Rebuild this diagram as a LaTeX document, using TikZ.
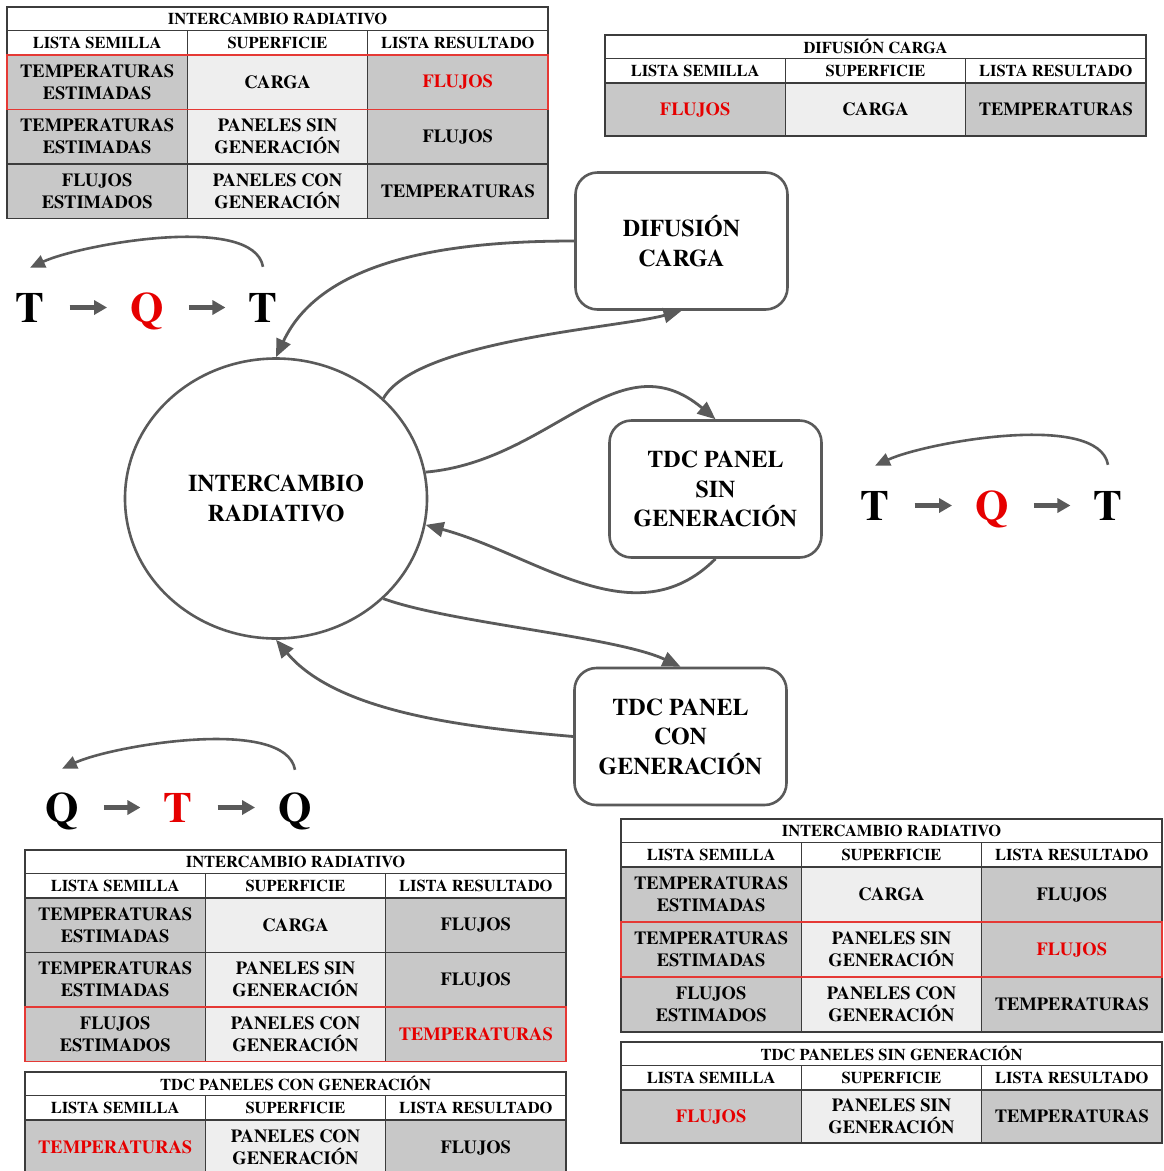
\documentclass[tikz,border=0pt]{standalone}
\usepackage{fontspec}
\IfFontExistsTF{texgyretermes-bold.otf}{%
  \setmainfont{texgyretermes}[Extension=.otf, UprightFont=*-regular, BoldFont=*-bold,
    ItalicFont=*-italic, BoldItalicFont=*-bolditalic]}{%
  \setmainfont{Liberation Serif}}
\usepackage{tikz}
\usetikzlibrary{shapes.geometric, positioning, arrows.meta}

\definecolor{grisflecha}{HTML}{5A5A5A}
\definecolor{borde}{HTML}{3C3C3C}
\definecolor{celdagris}{HTML}{C8C8C8}
\definecolor{celdaclara}{HTML}{EEEEEE}
\definecolor{rojo}{HTML}{E60000}
\definecolor{rojomarco}{HTML}{E53935}

\newcommand{\enrojo}[1]{\textcolor{rojo}{#1}}

% title row of a table
\newcommand{\tablatitulo}[4]{\node[titulo] (#1) at (#2,#3) {#4};}
% column heads
\newcommand{\tablacabecera}[3]{%
  \node[cabecera] (#1-a) at (#2,#3) {LISTA SEMILLA};
  \node[cabecera, right=0pt of #1-a] (#1-b) {SUPERFICIE};
  \node[cabecera, right=0pt of #1-b] (#1-c) {LISTA RESULTADO};}
% one data row: name, x, y, height, semilla, superficie, resultado
\newcommand{\tablafila}[7]{%
  \node[celda, fill=celdagris, minimum height=#4] (#1-a) at (#2,#3) {#5};
  \node[celda, fill=celdaclara, minimum height=#4, right=0pt of #1-a] (#1-b) {#6};
  \node[celda, fill=celdagris, minimum height=#4, right=0pt of #1-b] (#1-c) {#7};}

\begin{document}
\begin{tikzpicture}[
    %	style def
    x=1pt, y=1pt,
    titulo/.style={draw=borde, line width=1.4pt, fill=white, anchor=north west,
        outer sep=0pt, inner sep=0pt, minimum width=541pt, minimum height=23.5pt,
        font=\fontsize{16.5}{18}\selectfont\bfseries},
    cabecera/.style={titulo, minimum width=180.33pt, minimum height=24.5pt},
    celda/.style={draw=borde, line width=1.4pt, anchor=north west, outer sep=0pt,
        inner sep=0pt, minimum width=180.33pt, align=center,
        font=\fontsize{18.5}{22}\selectfont\bfseries},
    marco/.style={draw=rojomarco, line width=1.6pt},
    proceso/.style={draw=grisflecha, line width=2.6pt, rounded corners=22pt, fill=white,
        minimum width=212pt, minimum height=137pt, align=center, inner sep=0pt,
        font=\fontsize{24}{29.5}\selectfont\bfseries},
    radiativo/.style={ellipse, draw=grisflecha, line width=2.6pt, fill=white,
        minimum width=302pt, minimum height=280pt, align=center, inner sep=0pt,
        font=\fontsize{24}{29.5}\selectfont\bfseries},
    flujo/.style={draw=grisflecha, line width=2.8pt, -{Triangle[length=18pt, width=15pt]}},
    letra/.style={inner sep=0pt, text height=29pt, text depth=0pt, anchor=base,
        font=\fontsize{43}{43}\selectfont\bfseries},
    flechita/.style={draw=grisflecha, line width=4.5pt, -{Triangle[length=13pt, width=14pt]},
        shorten <=25pt, shorten >=23pt},
    arco/.style={draw=grisflecha, line width=2.6pt, -{Triangle[length=15pt, width=13pt]}}
    ]
    \path[use as bounding box, fill=white] (0,0) rectangle (1163,-1171);

    % table intercambio radiativo (top left)
    \tablatitulo{ir1}{7}{-7}{INTERCAMBIO RADIATIVO}
    \tablacabecera{ir1h}{7}{-30.5}
    \tablafila{ir1f1}{7}{-55}{54.5pt}{TEMPERATURAS\\ESTIMADAS}{CARGA}{\enrojo{FLUJOS}}
    \tablafila{ir1f2}{7}{-109.5}{54.5pt}{TEMPERATURAS\\ESTIMADAS}{PANELES SIN\\GENERACIÓN}{FLUJOS}
    \tablafila{ir1f3}{7}{-164}{54.5pt}{FLUJOS\\ESTIMADOS}{PANELES CON\\GENERACIÓN}{TEMPERATURAS}
    \draw[marco] (ir1f1-a.north west) rectangle (ir1f1-c.south east);

    % table difusion carga (top right)
    \tablatitulo{dc}{605}{-35}{DIFUSIÓN CARGA}
    \tablacabecera{dch}{605}{-58.5}
    \tablafila{dcf1}{605}{-83}{53pt}{\enrojo{FLUJOS}}{CARGA}{TEMPERATURAS}

    % table intercambio radiativo (bottom left)
    \tablatitulo{ir2}{25}{-850}{INTERCAMBIO RADIATIVO}
    \tablacabecera{ir2h}{25}{-873.5}
    \tablafila{ir2f1}{25}{-898}{54.5pt}{TEMPERATURAS\\ESTIMADAS}{CARGA}{FLUJOS}
    \tablafila{ir2f2}{25}{-952.5}{54.5pt}{TEMPERATURAS\\ESTIMADAS}{PANELES SIN\\GENERACIÓN}{FLUJOS}
    \tablafila{ir2f3}{25}{-1007}{54.5pt}{FLUJOS\\ESTIMADOS}{PANELES CON\\GENERACIÓN}{\enrojo{TEMPERATURAS}}
    \draw[marco] (ir2f3-a.north west) rectangle (ir2f3-c.south east);

    % table tdc paneles con generacion
    \tablatitulo{pc}{25}{-1072}{TDC PANELES CON GENERACIÓN}
    \tablacabecera{pch}{25}{-1095.5}
    \tablafila{pcf1}{25}{-1120}{55pt}{\enrojo{TEMPERATURAS}}{PANELES CON\\GENERACIÓN}{FLUJOS}

    % table intercambio radiativo (bottom right)
    \tablatitulo{ir3}{621}{-819}{INTERCAMBIO RADIATIVO}
    \tablacabecera{ir3h}{621}{-842.5}
    \tablafila{ir3f1}{621}{-867}{55pt}{TEMPERATURAS\\ESTIMADAS}{CARGA}{FLUJOS}
    \tablafila{ir3f2}{621}{-922}{55pt}{TEMPERATURAS\\ESTIMADAS}{PANELES SIN\\GENERACIÓN}{\enrojo{FLUJOS}}
    \tablafila{ir3f3}{621}{-977}{55pt}{FLUJOS\\ESTIMADOS}{PANELES CON\\GENERACIÓN}{TEMPERATURAS}
    \draw[marco] (ir3f2-a.north west) rectangle (ir3f2-c.south east);

    % table tdc paneles sin generacion
    \tablatitulo{ps}{621}{-1042}{TDC PANELES SIN GENERACIÓN}
    \tablacabecera{psh}{621}{-1065.5}
    \tablafila{psf1}{621}{-1090}{53pt}{\enrojo{FLUJOS}}{PANELES SIN\\GENERACIÓN}{TEMPERATURAS}

    % processes
    \node[radiativo] (rad) at (276,-498.5) {INTERCAMBIO\\RADIATIVO};
    \node[proceso] (dif) at (681.5,-241) {DIFUSIÓN\\CARGA};
    \node[proceso] (sin) at (715.5,-489) {TDC PANEL\\SIN\\GENERACIÓN};
    \node[proceso] (con) at (680.5,-736.5) {TDC PANEL\\CON\\GENERACIÓN};

    % connections
    \draw[flujo] (dif.west) to[out=180, in=65, looseness=0.9] (rad.north);
    \draw[flujo] (rad.43) to[out=60, in=195, looseness=0.55] (dif.south);
    \draw[flujo] (rad.10) to[out=5, in=140, looseness=1.1] (sin.north);
    \draw[flujo] (sin.south) to[out=-135, in=-15] (rad.-10);
    \draw[flujo] (rad.-43) to[out=-20, in=155, looseness=0.6] (con.north);
    \draw[flujo] (con.west) to[out=175, in=-50, looseness=0.8] (rad.south);

    % T -> Q -> T (top left)
    \node[letra] (t1) at (30,-322) {T};
    \node[letra] (q1) at (147,-322) {\enrojo{Q}};
    \node[letra] (t2) at (263,-322) {T};
    \draw[flechita] (t1) -- (q1);
    \draw[flechita] (q1) -- (t2);
    \draw[arco] ([yshift=26pt]t2.north) to[out=100, in=25, looseness=0.6] ([yshift=25pt]t1.north);

    % T -> Q -> T (right)
    \node[letra] (t3) at (875,-520) {T};
    \node[letra] (q2) at (992,-520) {\enrojo{Q}};
    \node[letra] (t4) at (1108,-520) {T};
    \draw[flechita] (t3) -- (q2);
    \draw[flechita] (q2) -- (t4);
    \draw[arco] ([yshift=26pt]t4.north) to[out=100, in=25, looseness=0.6] ([yshift=25pt]t3.north);

    % Q -> T -> Q (bottom left)
    \node[letra] (q3) at (62,-822) {Q};
    \node[letra] (t5) at (178,-822) {\enrojo{T}};
    \node[letra] (q4) at (295,-822) {Q};
    \draw[flechita] (q3) -- (t5);
    \draw[flechita] (t5) -- (q4);
    \draw[arco] ([yshift=23pt]q4.north) to[out=100, in=25, looseness=0.6] ([yshift=24pt]q3.north);
\end{tikzpicture}
\end{document}
